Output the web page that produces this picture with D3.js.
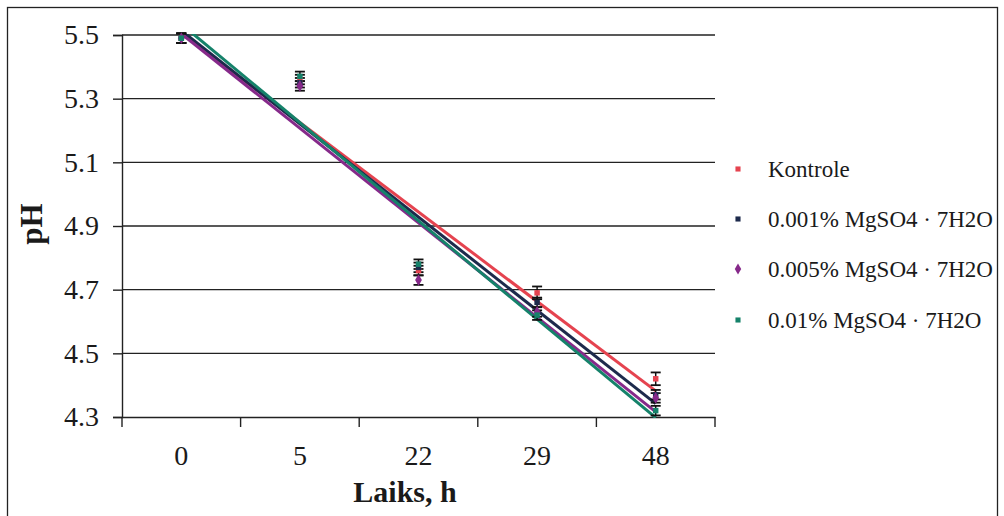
<!DOCTYPE html>
<html>
<head>
<meta charset="utf-8">
<script src="https://cdn.jsdelivr.net/npm/d3@7/dist/d3.min.js"></script>
<style>
  html, body { margin: 0; padding: 0; background: #fff; }
  svg { display: block; }
</style>
</head>
<body>
<svg id="chart" width="1004" height="516"></svg>
<script>
// ---- data ----
const categories = ["0", "5", "22", "29", "48"];
const seriesNames = ["Kontrole", "0.001% MgSO4 · 7H2O", "0.005% MgSO4 · 7H2O", "0.01% MgSO4 · 7H2O"];
const kontrole   = [5.49, 5.36, 4.76, 4.69, 4.42];
const mg0001     = [5.49, 5.35, 4.77, 4.66, 4.37];
const mg0005     = [5.49, 5.34, 4.73, 4.63, 4.36];
const mg001      = [5.49, 5.37, 4.78, 4.62, 4.32];
const errKontrole = [0.015, 0.015, 0.015, 0.02, 0.02];
const err0001     = [0.015, 0.015, 0.015, 0.015, 0.015];
const err0005     = [0.015, 0.015, 0.015, 0.015, 0.015];
const err001      = [0.015, 0.015, 0.015, 0.015, 0.015];
const yTicks = [4.3, 4.5, 4.7, 4.9, 5.1, 5.3, 5.5];
const colors = ["#e5434f", "#1d2a4c", "#86298a", "#15826a"];
const markerTypes = ["square", "square", "diamond", "square"];

const seriesValues = [kontrole, mg0001, mg0005, mg001];
const seriesErr = [errKontrole, err0001, err0005, err001];

const FONT = '"Liberation Serif"';
const TXT = "#1a1a1a";

// ---- layout ----
const svg = d3.select("#chart");
const plot = { left: 122, right: 715, top: 35, bottom: 417 };

svg.append("rect")
  .attr("x", 7.5).attr("y", 7.5).attr("width", 990).attr("height", 520)
  .attr("fill", "none").attr("stroke", "#222").attr("stroke-width", 1.3);

const x = d3.scaleBand().domain(categories).range([plot.left, plot.right]);
const y = d3.scaleLinear().domain([4.3, 5.5]).range([plot.bottom, plot.top]);

svg.append("defs").append("clipPath").attr("id", "plotclip")
  .append("rect").attr("x", plot.left).attr("y", plot.top - 1)
  .attr("width", plot.right - plot.left).attr("height", plot.bottom - plot.top + 2);

// gridlines
svg.append("g").selectAll("line").data(yTicks.filter(t => t !== 4.3)).join("line")
  .attr("x1", plot.left).attr("x2", plot.right)
  .attr("y1", d => y(d)).attr("y2", d => y(d))
  .attr("stroke", "#222").attr("stroke-width", 1.4);

// y axis
const yAxis = d3.axisLeft(y).tickValues(yTicks).tickFormat(d3.format(".1f")).tickSize(9).tickPadding(14);
const gy = svg.append("g").attr("transform", `translate(${plot.left},0)`).call(yAxis)
  .attr("font-family", null).attr("font-size", null);
gy.select(".domain").attr("stroke", "#222").attr("stroke-width", 1.4);
gy.selectAll(".tick line").attr("stroke", "#222").attr("stroke-width", 1.4);
gy.selectAll(".tick text").style("font-family", FONT).style("font-size", "28px").attr("fill", TXT);

// x axis
const xAxis = d3.axisBottom(x).tickSize(0).tickPadding(28);
const gx = svg.append("g").attr("transform", `translate(0,${plot.bottom})`).call(xAxis)
  .attr("font-family", null).attr("font-size", null);
gx.select(".domain").attr("stroke", "#222").attr("stroke-width", 1.4);
gx.selectAll(".tick text").style("font-family", FONT).style("font-size", "28px").attr("fill", TXT);
const bounds = categories.map(c => x(c)).concat([x(categories[categories.length - 1]) + x.bandwidth()]);
gx.append("g").selectAll("line").data(bounds).join("line")
  .attr("x1", d => d).attr("x2", d => d).attr("y1", 0).attr("y2", 10)
  .attr("stroke", "#222").attr("stroke-width", 1.4);

// axis titles
svg.append("text").attr("x", 405).attr("y", 502)
  .attr("text-anchor", "middle").attr("fill", TXT)
  .style("font-family", FONT).style("font-size", "30px").style("font-weight", "bold").text("Laiks, h");
svg.append("text").attr("transform", `translate(42,224) rotate(-90)`)
  .attr("text-anchor", "middle").attr("fill", TXT)
  .style("font-family", FONT).style("font-size", "31px").style("font-weight", "bold").text("pH");

const cx = c => x(c) + x.bandwidth() / 2;

// trendlines (linear regression over category index, like Excel)
const trendG = svg.append("g").attr("clip-path", "url(#plotclip)");
seriesValues.forEach((vals, si) => {
  const n = vals.length;
  const xs = vals.map((_, i) => i + 1);
  const mx = d3.mean(xs), my = d3.mean(vals);
  const slope = d3.sum(xs.map((xi, i) => (xi - mx) * (vals[i] - my))) / d3.sum(xs.map(xi => (xi - mx) ** 2));
  const icpt = my - slope * mx;
  trendG.append("line")
    .attr("x1", cx(categories[0])).attr("y1", y(icpt + slope * 1))
    .attr("x2", cx(categories[n - 1])).attr("y2", y(icpt + slope * n))
    .attr("stroke", colors[si]).attr("stroke-width", 3);
});

// error bars and markers
const dataG = svg.append("g");
seriesValues.forEach((vals, si) => {
  vals.forEach((v, i) => {
    const px = cx(categories[i]);
    const e = seriesErr[si][i];
    const g = dataG.append("g");
    g.append("line").attr("x1", px).attr("x2", px).attr("y1", y(v - e)).attr("y2", y(v + e))
      .attr("stroke", "#111").attr("stroke-width", 1.5);
    [v - e, v + e].forEach(t => g.append("line")
      .attr("x1", px - 5).attr("x2", px + 5).attr("y1", y(t)).attr("y2", y(t))
      .attr("stroke", "#111").attr("stroke-width", 1.8));
  });
});
seriesValues.forEach((vals, si) => {
  const sym = d3.symbol().type(markerTypes[si] === "diamond" ? d3.symbolDiamond : d3.symbolSquare)
    .size(markerTypes[si] === "diamond" ? 40 : 30);
  dataG.append("g").selectAll("path").data(vals).join("path")
    .attr("transform", (d, i) => `translate(${cx(categories[i])},${y(d)})`)
    .attr("d", sym).attr("fill", colors[si]);
});

// legend
const legendYs = [169, 219, 269, 320];
const lg = svg.append("g");
seriesNames.forEach((name, si) => {
  const sym = d3.symbol().type(markerTypes[si] === "diamond" ? d3.symbolDiamond : d3.symbolSquare)
    .size(markerTypes[si] === "diamond" ? 36 : 26);
  lg.append("path").attr("transform", `translate(738,${legendYs[si]})`).attr("d", sym).attr("fill", colors[si]);
  lg.append("text").attr("x", 768).attr("y", legendYs[si]).attr("dy", "0.35em").attr("fill", TXT)
    .style("font-family", FONT).style("font-size", "23px").text(name);
});
</script>
</body>
</html>
